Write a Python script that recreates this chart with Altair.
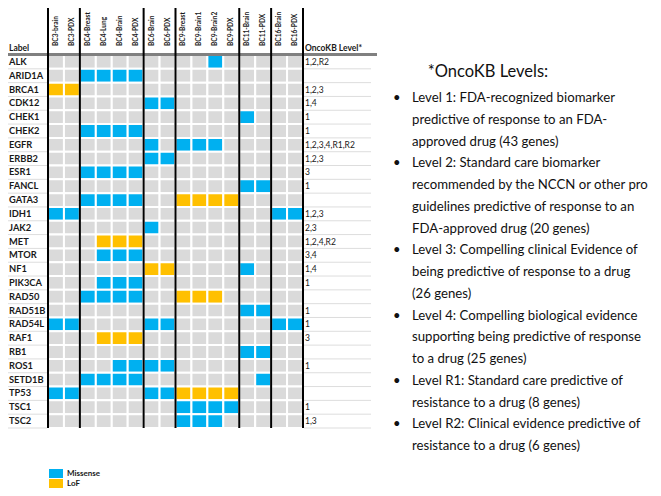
import altair as alt
import pandas as pd

samples = ["BC3-brain", "BC3-PDX", "BC4-Breast", "BC4-Lung", "BC4-Brain", "BC4-PDX",
           "BC6-Brain", "BC6-PDX", "BC9-Breast", "BC9-Brain1", "BC9-Brain2", "BC9-PDX",
           "BC11-Brain", "BC11-PDX", "BC16-Brain", "BC16-PDX"]
genes = ["ALK", "ARID1A", "BRCA1", "CDK12", "CHEK1", "CHEK2", "EGFR", "ERBB2", "ESR1",
         "FANCL", "GATA3", "IDH1", "JAK2", "MET", "MTOR", "NF1", "PIK3CA", "RAD50",
         "RAD51B", "RAD54L", "RAF1", "RB1", "ROS1", "SETD1B", "TP53", "TSC1", "TSC2"]
# per gene, one character per sample: "." none, "M" Missense, "L" LoF
calls = [
    "..........M.....",
    "..MMMM..........",
    "LL..............",
    "......MM........",
    "............M...",
    "..MMMM..........",
    "......M.MMM.....",
    "......MM........",
    "..MMMM..........",
    "............MM..",
    "..MMMM..LLLL....",
    "MM............MM",
    "......M.........",
    "...LLL..........",
    "...MMM..........",
    "......LL....M...",
    "...MMM..........",
    "..MMMM..LLL.....",
    "............MM..",
    "MM....MM......MM",
    "...LLL..........",
    "............MM..",
    "....MMMM........",
    "..MMMM.......M..",
    "MM....MMLLLL....",
    "........MMMM....",
    "........MMM.....",
]
oncokb = ["1,2,R2", "", "1,2,3", "1,4", "1", "1", "1,2,3,4,R1,R2", "1,2,3", "3",
          "1", "", "1,2,3", "2,3", "1,2,4,R2", "3,4", "1,4", "1", "", "1", "1",
          "3", "", "1", "", "", "1", "1,3"]
group_starts = ["BC3-brain", "BC4-Breast", "BC6-Brain", "BC9-Breast", "BC11-Brain", "BC16-Brain"]
group_end = ["BC16-PDX"]
legend_types = ["Missense", "LoF"]
note_title = "*OncoKB Levels:"
note_lines = [
    "Level 1: FDA-recognized biomarker",
    "predictive of response to an FDA-",
    "approved drug (43 genes)",
    "Level 2: Standard care biomarker",
    "recommended by the NCCN or other pro",
    "guidelines predictive of response to an",
    "FDA-approved drug (20 genes)",
    "Level 3: Compelling clinical Evidence of",
    "being predictive of response to a drug",
    "(26 genes)",
    "Level 4: Compelling biological evidence",
    "supporting being predictive of response",
    "to a drug (25 genes)",
    "Level R1: Standard care predictive of",
    "resistance to a drug (8 genes)",
    "Level R2: Clinical evidence predictive of",
    "resistance to a drug (6 genes)",
]
bullet_lines = [0, 3, 7, 10, 13, 15]

code = {".": "none", "M": "Missense", "L": "LoF"}
rows = []
for g, s in zip(genes, calls):
    for smp, c in zip(samples, s):
        rows.append({"gene": g, "sample": smp, "type": code[c]})
cells = pd.DataFrame(rows)
levels = pd.DataFrame({"gene": genes, "level": oncokb})
starts = pd.DataFrame({"sample": group_starts})
ends = pd.DataFrame({"sample": group_end})
seps = pd.DataFrame({"gene": genes})
samp = pd.DataFrame({"sample": samples})
one = pd.DataFrame({"k": [0]})
leg = pd.DataFrame({"type": legend_types, "i": list(range(len(legend_types)))})
notes = pd.DataFrame({"t": note_lines, "i": list(range(len(note_lines))),
                      "b": ["\u2022" if i in bullet_lines else "" for i in range(len(note_lines))]})

W, H = 255, 373
FONT = "Lato"
TXT = "#1a1a1a"
xs = alt.Scale(domain=samples, paddingInner=0, paddingOuter=0)
ys = alt.Scale(domain=genes, paddingInner=0, paddingOuter=0)
cs = alt.Scale(domain=["none", "Missense", "LoF"], range=["#dadada", "#00b0f0", "#ffc000"])

heat = alt.Chart(cells).mark_rect(stroke="white", strokeWidth=2).encode(
    x=alt.X("sample:N", scale=xs, axis=None),
    y=alt.Y("gene:N", scale=ys, axis=None),
    color=alt.Color("type:N", scale=cs, legend=None),
)

gene_lbl = alt.Chart(seps).mark_text(align="left", baseline="middle", fontSize=9.3,
                                     fontWeight="bold", font=FONT, color=TXT).encode(
    y=alt.Y("gene:N", scale=ys, axis=None), x=alt.value(-39), text="gene:N")
samp_lbl = alt.Chart(samp).mark_text(align="left", baseline="middle", fontSize=6.6,
                                     fontWeight="bold", font=FONT, color=TXT,
                                     angle=270).encode(
    x=alt.X("sample:N", scale=xs, axis=None), y=alt.value(-9), text="sample:N")

sep_left = alt.Chart(seps).mark_rule(color="#dddddd", strokeWidth=1).encode(
    y=alt.Y("gene:N", scale=ys, bandPosition=1, axis=None),
    x=alt.value(-40), x2=alt.value(0))
sep_right = alt.Chart(seps).mark_rule(color="#dddddd", strokeWidth=1).encode(
    y=alt.Y("gene:N", scale=ys, bandPosition=1, axis=None),
    x=alt.value(W), x2=alt.value(W + 68))

vl1 = alt.Chart(starts).mark_rule(color="black", strokeWidth=2).encode(
    x=alt.X("sample:N", scale=xs, bandPosition=0, axis=None),
    y=alt.value(-47), y2=alt.value(H))
vl2 = alt.Chart(ends).mark_rule(color="black", strokeWidth=2).encode(
    x=alt.X("sample:N", scale=xs, bandPosition=1, axis=None),
    y=alt.value(-47), y2=alt.value(H))

header_line = alt.Chart(one).mark_rule(color="#808080", strokeWidth=3).encode(
    x=alt.value(-40), x2=alt.value(W + 74), y=alt.value(-0.5))

lvl_text = alt.Chart(levels).mark_text(align="left", baseline="middle", fontSize=8.5,
                                       font=FONT, color=TXT).encode(
    y=alt.Y("gene:N", scale=ys, axis=None), x=alt.value(W + 2), text="level:N")

hdr_label = alt.Chart(one).mark_text(align="left", baseline="alphabetic", fontSize=8.5,
                                     fontWeight="bold", font=FONT, color=TXT,
                                     text="Label").encode(
    x=alt.value(-39), y=alt.value(-4))
hdr_onco = alt.Chart(one).mark_text(align="left", baseline="alphabetic", fontSize=8.5,
                                    fontWeight="bold", font=FONT, color=TXT,
                                    text="OncoKB Level*").encode(
    x=alt.value(W + 2), y=alt.value(-4))

leg_rect = alt.Chart(leg).transform_calculate(
    y1="414 + datum.i * 10", y2="414 + datum.i * 10 + 9").mark_rect().encode(
    x=alt.value(1), x2=alt.value(15),
    y=alt.Y("y1:Q", scale=None), y2="y2:Q",
    color=alt.Color("type:N", scale=cs, legend=None))
leg_text = alt.Chart(leg).transform_calculate(
    yc="418.5 + datum.i * 10").mark_text(align="left", baseline="middle", fontSize=8,
                                         fontWeight="bold", font=FONT,
                                         color=TXT).encode(
    x=alt.value(19), y=alt.Y("yc:Q", scale=None), text="type:N")

title_text = alt.Chart(one).mark_text(align="center", baseline="middle", fontSize=16.5,
                                      font=FONT, color="#111111",
                                      text=note_title).encode(
    x=alt.value(440), y=alt.value(17))
note_text = alt.Chart(notes).transform_calculate(
    yy="43 + datum.i * 21.75").mark_text(align="left", baseline="middle", fontSize=13.2,
                                         font=FONT, color="#111111").encode(
    x=alt.value(364), y=alt.Y("yy:Q", scale=None), text="t:N")
bullet_text = alt.Chart(notes).transform_calculate(
    yy="43 + datum.i * 21.75").mark_text(align="left", baseline="middle", fontSize=13,
                                         font=FONT, color="#111111").encode(
    x=alt.value(345), y=alt.Y("yy:Q", scale=None), text="b:N")

chart = alt.layer(
    sep_left, sep_right, heat, header_line, vl1, vl2, gene_lbl, samp_lbl, lvl_text,
    hdr_label, hdr_onco, leg_rect, leg_text, title_text, note_text, bullet_text
).properties(
    width=W, height=H,
    autosize=alt.AutoSizeParams(type="none"),
    padding={"left": 40, "top": 47, "right": 350, "bottom": 60},
    background="white",
).configure_view(stroke=None)

chart.save("out.html", embed_options={"renderer": "svg", "actions": False})
